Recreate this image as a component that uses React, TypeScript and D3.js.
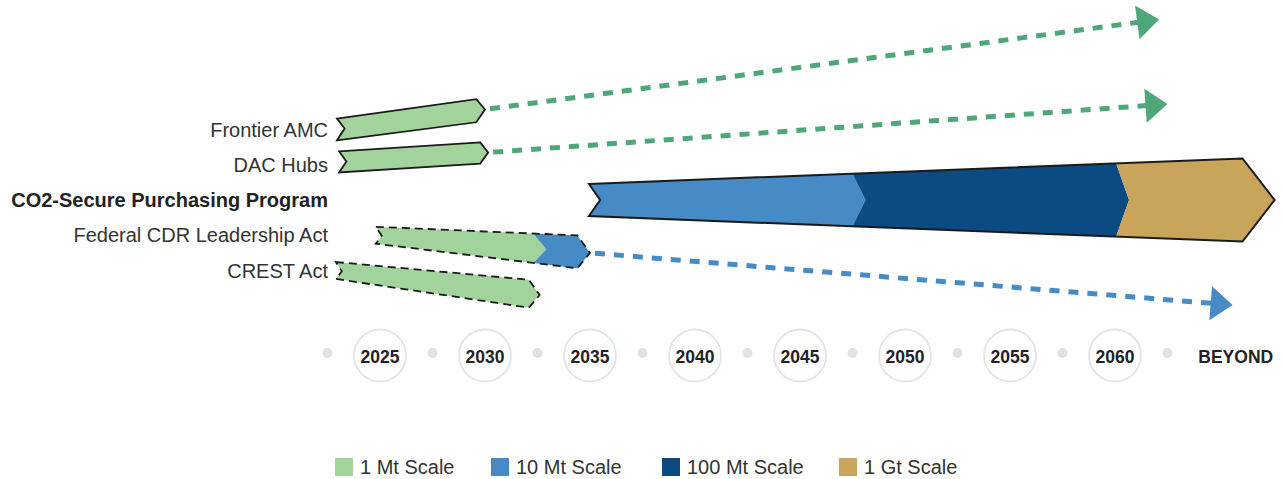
import React from "react";
import * as d3 from "d3";

// ---------- data ----------
const TIMELINE_YEARS = [2025, 2030, 2035, 2040, 2045, 2050, 2055, 2060];
const TIMELINE_DOTS = [2022.5, 2027.5, 2032.5, 2037.5, 2042.5, 2047.5, 2052.5, 2057.5, 2062.5];
const BEYOND_LABEL = "BEYOND";
const BEYOND_YEAR = 2065.75;

const SCALES = ["1 Mt", "10 Mt", "100 Mt", "1 Gt"];
const SCALE_LABELS = ["1 Mt Scale", "10 Mt Scale", "100 Mt Scale", "1 Gt Scale"];

const PROGRAMS = [
  "Frontier AMC",
  "DAC Hubs",
  "CO2-Secure Purchasing Program",
  "Federal CDR Leadership Act",
  "CREST Act",
];
const PROGRAM_HIGHLIGHT = [false, false, true, false, false];
const PROGRAM_STATUS = ["enacted", "enacted", "enacted", "proposed", "proposed"];
const START_YEAR = [2022.95, 2023.05, 2034.95, 2024.8, 2022.9];
const END_YEAR = [2030, 2030.15, 2067.6, 2035, 2032.6];
// vertical position, in lane units
const START_LANE = [0, 0.92, 2, 3.0, 4.0];
const END_LANE = [-0.567, 0.652, 2, 3.5, 4.695];
// band thickness, in lane units
const START_THICK = [0.62, 0.6, 0.91, 0.48, 0.48];
const END_THICK = [0.66, 0.6, 2.43, 0.96, 0.81];

// scale segments within each program
const SEG_PROGRAM = [0, 1, 2, 2, 2, 3, 3, 4];
const SEG_SCALE = ["1 Mt", "1 Mt", "10 Mt", "100 Mt", "1 Gt", "1 Mt", "10 Mt", "1 Mt"];
const SEG_FROM = [2022.95, 2023.05, 2034.95, 2047.5, 2060.05, 2024.8, 2032.3, 2022.9];
const SEG_TO = [2030, 2030.15, 2047.5, 2060.05, 2067.6, 2032.3, 2035, 2032.6];

// dashed trend continuations
const TREND_PROGRAM = [0, 1, 3];
const TREND_SCALE = ["1 Mt", "1 Mt", "10 Mt"];
const TREND_YEAR = [2062.1, 2062.5, 2065.6];
const TREND_LANE = [-3.12, -0.72, 4.98];

// ---------- styles ----------
const FILL: Record<string, string> = {
  "1 Mt": "#a3d39c",
  "10 Mt": "#468bc5",
  "100 Mt": "#0b4a83",
  "1 Gt": "#c9a55b",
};
const TREND_COLOR: Record<string, string> = {
  "1 Mt": "#50a67b",
  "10 Mt": "#468bc5",
};
const FONT = "'Liberation Sans', Arial, Helvetica, sans-serif";

const W = 1283;
const H = 479;

const x = d3.scaleLinear().domain([2025, 2060]).range([380, 1115]);
const lane = d3.scaleLinear().domain([0, 4]).range([129.5, 270.5]);
const PX_PER_LANE = lane(1) - lane(0);

type Pt = [number, number];

function geom(i: number) {
  const xs = x(START_YEAR[i]);
  const xe = x(END_YEAR[i]);
  const t = (px: number) => (px - xs) / (xe - xs);
  const c = (px: number) => lane(START_LANE[i] + (END_LANE[i] - START_LANE[i]) * t(px));
  const h = (px: number) =>
    ((START_THICK[i] + (END_THICK[i] - START_THICK[i]) * t(px)) * PX_PER_LANE) / 2;
  const dStart = 0.7 * h(xs);
  const dEnd = 0.75 * h(xe);
  return { xs, xe, c, h, dStart, dEnd };
}

const BOUNDARY_DEPTH = 13;

function outline(i: number): Pt[] {
  const { xs, xe, c, h, dStart, dEnd } = geom(i);
  const xr = xe - dEnd;
  return [
    [xs, c(xs) - h(xs)],
    [xr, c(xr) - h(xr)],
    [xe, c(xe)],
    [xr, c(xr) + h(xr)],
    [xs, c(xs) + h(xs)],
    [xs + dStart, c(xs + dStart)],
  ];
}

function segment(k: number): Pt[] {
  const i = SEG_PROGRAM[k];
  const { xs, xe, c, h, dStart, dEnd } = geom(i);
  const xa = x(SEG_FROM[k]);
  const xb = x(SEG_TO[k]);
  const isStart = Math.abs(SEG_FROM[k] - START_YEAR[i]) < 1e-6;
  const isEnd = Math.abs(SEG_TO[k] - END_YEAR[i]) < 1e-6;
  let lt: Pt, lb: Pt, lp: Pt;
  if (isStart) {
    lt = [xs, c(xs) - h(xs)];
    lb = [xs, c(xs) + h(xs)];
    lp = [xs + dStart, c(xs + dStart)];
  } else {
    lt = [xa, c(xa) - h(xa)];
    lb = [xa, c(xa) + h(xa)];
    lp = [xa + BOUNDARY_DEPTH, c(xa + BOUNDARY_DEPTH)];
  }
  let rt: Pt, rb: Pt, rp: Pt;
  if (isEnd) {
    const xr = xe - dEnd;
    rt = [xr, c(xr) - h(xr)];
    rb = [xr, c(xr) + h(xr)];
    rp = [xe, c(xe)];
  } else {
    rt = [xb, c(xb) - h(xb)];
    rb = [xb, c(xb) + h(xb)];
    rp = [xb + BOUNDARY_DEPTH, c(xb + BOUNDARY_DEPTH)];
  }
  return [lt, rt, rp, rb, lb, lp];
}

const poly = (pts: Pt[]) => (d3.line()(pts as [number, number][]) || "") + "Z";

function trend(j: number) {
  const i = TREND_PROGRAM[j];
  const sx = x(END_YEAR[i]);
  const sy = lane(END_LANE[i]);
  const tx = x(TREND_YEAR[j]);
  const ty = lane(TREND_LANE[j]);
  const len = Math.hypot(tx - sx, ty - sy);
  const ux = (tx - sx) / len;
  const uy = (ty - sy) / len;
  const nx = -uy;
  const ny = ux;
  const headLen = 22;
  const headHalf = 17;
  const bx = tx - ux * headLen;
  const by = ty - uy * headLen;
  const gap = 5;
  const head: Pt[] = [
    [tx, ty],
    [bx + nx * headHalf, by + ny * headHalf],
    [bx - nx * headHalf, by - ny * headHalf],
  ];
  return {
    line: [sx + ux * gap, sy + uy * gap, bx + ux * 1, by + uy * 1],
    head,
  };
}

export default function App() {
  return (
    <svg
      width={W}
      height={H}
      viewBox={`0 0 ${W} ${H}`}
      style={{ position: "absolute", left: 0, top: 0, background: "#fff" }}
      fontFamily={FONT}
    >
      {/* dashed trends */}
      {TREND_PROGRAM.map((_, j) => {
        const t = trend(j);
        const col = TREND_COLOR[TREND_SCALE[j]];
        return (
          <g key={"tr" + j}>
            <line
              x1={t.line[0]}
              y1={t.line[1]}
              x2={t.line[2]}
              y2={t.line[3]}
              stroke={col}
              strokeWidth={5}
              strokeDasharray="10 9"
            />
            <path d={poly(t.head)} fill={col} />
          </g>
        );
      })}

      {/* program bands */}
      {PROGRAMS.map((_, i) => (
        <g key={"p" + i}>
          {SEG_PROGRAM.map((p, k) =>
            p === i ? <path key={k} d={poly(segment(k))} fill={FILL[SEG_SCALE[k]]} /> : null
          )}
          <path
            d={poly(outline(i))}
            fill="none"
            stroke="#1a1a1a"
            strokeWidth={i === 2 ? 2 : 1.8}
            strokeLinejoin="miter"
            strokeDasharray={PROGRAM_STATUS[i] === "proposed" ? "8 5" : undefined}
          />
        </g>
      ))}

      {/* program labels */}
      {PROGRAMS.map((name, i) => (
        <text
          key={"l" + i}
          x={328}
          y={lane(i)}
          dy="0.35em"
          textAnchor="end"
          fontSize={20}
          fontWeight={PROGRAM_HIGHLIGHT[i] ? 700 : 400}
          fill={PROGRAM_HIGHLIGHT[i] ? "#222" : "#333"}
        >
          {name}
        </text>
      ))}

      {/* timeline */}
      {TIMELINE_DOTS.map((yr, i) => (
        <circle key={"d" + i} cx={x(yr)} cy={353} r={5} fill="#e2e2e2" />
      ))}
      {TIMELINE_YEARS.map((yr) => (
        <g key={"y" + yr}>
          <circle cx={x(yr)} cy={355.5} r={26} fill="#fff" stroke="#e4e4e4" strokeWidth={1.8} />
          <text
            x={x(yr)}
            y={356.5}
            dy="0.35em"
            textAnchor="middle"
            fontSize={17.5}
            fontWeight={700}
            fill="#222"
          >
            {yr}
          </text>
        </g>
      ))}
      <text
        x={x(BEYOND_YEAR)}
        y={356.5}
        dy="0.35em"
        textAnchor="middle"
        fontSize={17.5}
        fontWeight={700}
        fill="#222"
      >
        {BEYOND_LABEL}
      </text>

      {/* legend */}
      {SCALES.map((s, i) => {
        const lx = [335, 491, 662, 839][i];
        return (
          <g key={"lg" + i} transform={`translate(${lx},458)`}>
            <rect width={18} height={18} fill={FILL[s]} />
            <text x={25} y={9} dy="0.35em" fontSize={20} fill="#333">
              {SCALE_LABELS[i]}
            </text>
          </g>
        );
      })}
    </svg>
  );
}
